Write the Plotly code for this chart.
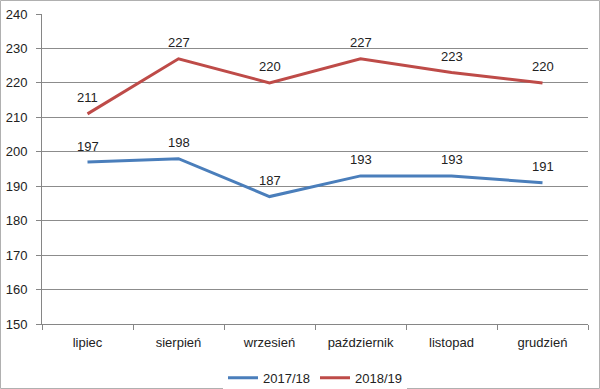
import plotly.graph_objects as go

months = ["lipiec", "sierpień", "wrzesień", "październik", "listopad", "grudzień"]
s2017 = [197, 198, 187, 193, 193, 191]
s2018 = [211, 227, 220, 227, 223, 220]
yticks = [150, 160, 170, 180, 190, 200, 210, 220, 230, 240]

W, H = 600, 389
ML, MR, MT, MB = 42, 12, 14, 65
font = "Liberation Sans, Arial, sans-serif"

fig = go.Figure()
fig.add_trace(go.Scatter(x=months, y=s2017, name="2017/18", mode="lines",
                         line=dict(color="#4A7EBB", width=3)))
fig.add_trace(go.Scatter(x=months, y=s2018, name="2018/19", mode="lines",
                         line=dict(color="#BE4B48", width=3)))

for series in (s2017, s2018):
    for m, v in zip(months, series):
        fig.add_annotation(x=m, y=v, text=str(v), showarrow=False,
                           yshift=16, font=dict(size=13, color="#222"))

pw = W - ML - MR
ph = H - MT - MB
fig.add_shape(type="rect", xref="paper", yref="paper",
              x0=-(ML - 0.5) / pw, x1=1 + (MR - 0.5) / pw,
              y0=-(MB - 0.5) / ph, y1=1 + (MT - 0.5) / ph,
              line=dict(color="#B0B0B0", width=1), layer="below")

fig.update_layout(
    width=W, height=H, margin=dict(l=ML, r=MR, t=MT, b=MB, autoexpand=False),
    paper_bgcolor="white", plot_bgcolor="white",
    font=dict(family=font, size=13, color="#222"),
    showlegend=True,
    legend=dict(orientation="h", x=0.5, xanchor="center", y=-0.125, yanchor="top",
                font=dict(size=13), itemwidth=30, tracegroupgap=0),
    xaxis=dict(type="category", range=[-0.5, 5.5], tickson="boundaries",
               ticks="outside", ticklen=5, tickcolor="#868686",
               showline=True, linecolor="#868686", linewidth=1,
               showgrid=False, tickfont=dict(size=13), automargin=False,
               ticklabelstandoff=6),
    yaxis=dict(range=[150, 240], tickvals=yticks, ticks="outside", ticklen=5,
               tickcolor="#868686", showline=True, linecolor="#868686",
               showgrid=True, gridcolor="#8C8C8C", gridwidth=1,
               zeroline=False, tickfont=dict(size=13), automargin=False,
               ticklabelstandoff=6),
)
fig.write_html("out.html", config={"displayModeBar": False},
               post_script="document.body.style.margin='0';document.body.style.overflow='hidden';")
